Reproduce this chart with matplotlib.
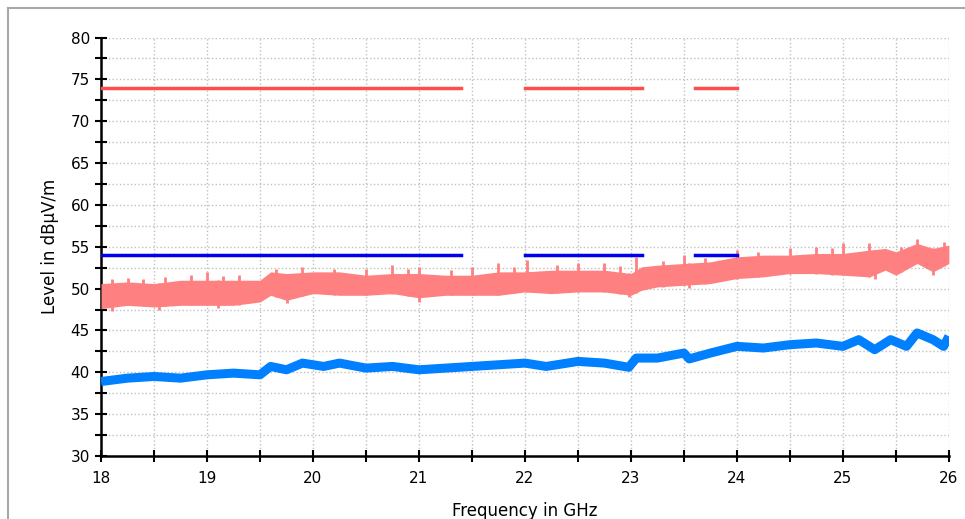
#!/usr/bin/env python3

import numpy as np
import matplotlib
matplotlib.use('Agg')
import matplotlib.pyplot as plt
from matplotlib.lines import Line2D
from matplotlib.ticker import MultipleLocator

matplotlib.rcParams.update({'font.family': 'DejaVu Sans'})

# peak trace (pink), read as a lower/upper envelope of the noise band
pk_freq = [18.0, 18.25, 18.5, 18.75, 19.0, 19.25, 19.5, 19.6, 19.75, 20.0,
           20.25, 20.5, 20.75, 21.0, 21.25, 21.5, 21.75, 22.0, 22.25, 22.5,
           22.75, 23.0, 23.1, 23.25, 23.5, 23.75, 24.0, 24.25, 24.5, 24.75,
           25.0, 25.25, 25.4, 25.5, 25.7, 25.85, 26.0]
pk_low = [47.6, 48.0, 47.8, 48.0, 48.0, 48.0, 48.4, 49.2, 48.6, 49.4,
          49.2, 49.2, 49.4, 48.9, 49.2, 49.2, 49.2, 49.6, 49.4, 49.6,
          49.6, 49.2, 49.8, 50.2, 50.4, 50.6, 51.2, 51.4, 51.8, 51.8,
          51.6, 51.4, 52.2, 51.6, 53.0, 52.0, 53.0]
pk_high = [50.6, 50.8, 50.6, 51.0, 51.0, 51.0, 51.0, 52.0, 51.8, 52.0,
           52.0, 51.6, 51.8, 51.8, 51.6, 51.6, 52.0, 52.0, 52.2, 52.2,
           52.2, 51.8, 52.6, 52.8, 53.0, 53.2, 53.8, 54.0, 54.0, 54.2,
           54.2, 54.6, 54.8, 54.4, 55.4, 54.8, 55.2]

# single spikes sticking out of the peak band (up and down)
spike_freq = [18.1, 18.25, 18.4, 18.6, 18.85, 19.0, 19.15, 19.3, 19.65, 19.9,
              20.2, 20.5, 20.75, 20.9, 21.0, 21.3, 21.5, 21.75, 21.9, 22.02,
              22.3, 22.5, 22.75, 22.9, 23.05, 23.3, 23.5, 23.7, 24.0, 24.2,
              24.5, 24.75, 24.9, 25.0, 25.25, 25.55, 25.7, 25.95]
spike_lvl = [51.2, 51.3, 51.1, 51.4, 51.6, 52.0, 51.5, 51.6, 52.3, 52.6,
             52.4, 52.4, 52.8, 52.3, 52.6, 52.2, 52.6, 53.0, 52.6, 53.4,
             52.8, 53.0, 53.0, 52.7, 53.8, 53.3, 54.0, 53.7, 54.6, 54.4,
             54.8, 55.0, 54.8, 55.4, 55.4, 55.0, 55.9, 55.6]
dip_freq = [18.1, 18.55, 19.1, 19.75, 21.0, 22.98, 23.55, 25.3, 25.85]
dip_lvl = [47.3, 47.4, 47.7, 48.3, 48.4, 49.0, 50.1, 51.1, 51.6]

# average trace (blue)
av_freq = [18.0, 18.25, 18.5, 18.75, 19.0, 19.25, 19.5, 19.6, 19.75, 19.9,
           20.0, 20.1, 20.25, 20.5, 20.75, 21.0, 21.25, 21.5, 21.75, 22.0,
           22.2, 22.3, 22.5, 22.75, 22.98, 23.05, 23.25, 23.5, 23.55, 23.75,
           24.0, 24.25, 24.5, 24.75, 25.0, 25.15, 25.3, 25.45, 25.6, 25.7,
           25.85, 25.95, 26.0]
av_lvl = [38.9, 39.3, 39.5, 39.3, 39.7, 39.9, 39.7, 40.7, 40.3, 41.1,
          40.9, 40.7, 41.1, 40.5, 40.7, 40.3, 40.5, 40.7, 40.9, 41.1,
          40.7, 40.9, 41.3, 41.1, 40.6, 41.7, 41.7, 42.3, 41.6, 42.3,
          43.1, 42.9, 43.3, 43.5, 43.1, 43.9, 42.7, 43.9, 43.1, 44.7,
          43.9, 43.1, 44.3]

# limit lines (segments)
lim_start = [18.0, 22.0, 23.6]
lim_stop = [21.4, 23.1, 24.0]
peak_limit = 74
avg_limit = 54

fig = plt.figure(figsize=(9.65, 5.19), dpi=100)
ax = fig.add_axes([0.1047, 0.1214, 0.8786, 0.8063])

ax.fill_between(pk_freq, pk_low, pk_high, color='#ff8080', lw=0, zorder=3)
ax.vlines(spike_freq, np.interp(spike_freq, pk_freq, pk_low), spike_lvl,
          color='#ff8080', lw=2, zorder=3)
ax.vlines(dip_freq, dip_lvl, np.interp(dip_freq, pk_freq, pk_high),
          color='#ff8080', lw=2, zorder=3)
ax.plot(av_freq, av_lvl, color='#0080ff', lw=6.5, solid_joinstyle='round',
        solid_capstyle='butt', zorder=4)

for a, b in zip(lim_start, lim_stop):
    ax.plot([a, b], [peak_limit, peak_limit], color='#ff4c4c', lw=2.5, zorder=5)
    ax.plot([a, b], [avg_limit, avg_limit], color='#0000ee', lw=2.5, zorder=5)

ax.set_xlim(18, 26)
ax.set_ylim(30, 80)
ax.xaxis.set_major_locator(MultipleLocator(1))
ax.xaxis.set_minor_locator(MultipleLocator(0.5))
ax.yaxis.set_major_locator(MultipleLocator(5))
ax.yaxis.set_minor_locator(MultipleLocator(2.5))
ax.grid(which='both', color='#c0c0c0', linestyle=':', lw=1, zorder=0)
ax.set_axisbelow(True)
ax.tick_params(which='both', direction='inout', length=9, width=1.5,
               labelsize=11, colors='black')
ax.tick_params(axis='x', pad=6)
for s in ['top', 'right']:
    ax.spines[s].set_visible(False)
for s in ['left', 'bottom']:
    ax.spines[s].set_linewidth(1.8)
ax.set_xlabel('Frequency in GHz', fontsize=12, labelpad=12)
ax.set_ylabel('Level in dBµV/m', fontsize=12, labelpad=8)

# window frame
fig.add_artist(Line2D([0.0083, 0.0083], [0, 0.9846], color='#a8a8a8', lw=1.5))
fig.add_artist(Line2D([0.0083, 1], [0.9846, 0.9846], color='#a8a8a8', lw=1.5))

fig.savefig('out.png', dpi=100)
